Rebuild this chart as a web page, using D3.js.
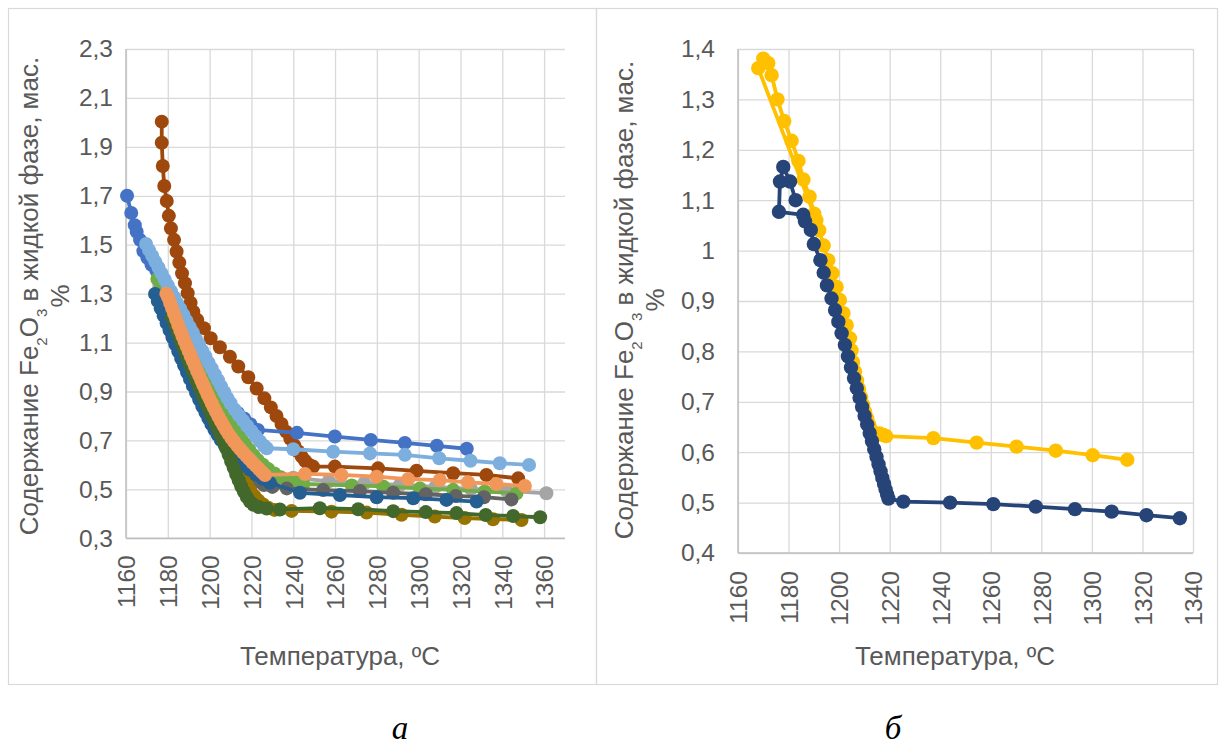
<!DOCTYPE html>
<html>
<head>
<meta charset="utf-8">
<script src="https://cdn.jsdelivr.net/npm/d3@7"></script>
<style>
  body { margin: 0; background: #fff; }
  svg { display: block; }
</style>
</head>
<body>
<svg id="fig" width="1221" height="749"></svg>
<script>
// ---- axis ticks ----
const xTicksA = [1160, 1180, 1200, 1220, 1240, 1260, 1280, 1300, 1320, 1340, 1360];
const yTicksA = [0.3, 0.5, 0.7, 0.9, 1.1, 1.3, 1.5, 1.7, 1.9, 2.1, 2.3];
const xTicksB = [1160, 1180, 1200, 1220, 1240, 1260, 1280, 1300, 1320, 1340];
const yTicksB = [0.4, 0.5, 0.6, 0.7, 0.8, 0.9, 1.0, 1.1, 1.2, 1.3, 1.4];

// ---- panel a: [temperature, Fe2O3 in liquid] ----
const aBrown = [[1177.1,2.003],[1177.1,1.917],[1177.6,1.822],[1178.3,1.740],[1179.5,1.679],[1180.5,1.618],[1181.5,1.567],[1183.0,1.520],[1184.2,1.472],[1185.5,1.427],[1186.8,1.383],[1188.2,1.343],[1189.5,1.302],[1190.9,1.263],[1192.2,1.226],[1194.1,1.193],[1197.3,1.159],[1200.5,1.118],[1204.9,1.081],[1209.7,1.042],[1213.7,1.002],[1218.5,0.958],[1222.5,0.912],[1226.2,0.872],[1229.3,0.835],[1232.0,0.800],[1234.4,0.767],[1236.6,0.736],[1238.6,0.707],[1240.5,0.680],[1242.3,0.656],[1244.0,0.635],[1245.6,0.617],[1247.2,0.603],[1249.5,0.593],[1259.9,0.593],[1280.6,0.586],[1299.0,0.576],[1316.5,0.566],[1332.4,0.559],[1347.6,0.545]];
const aBlue = [[1160.5,1.700],[1162.5,1.630],[1164.2,1.580],[1165.1,1.553],[1166.7,1.520],[1168.3,1.474],[1170.2,1.447],[1172.2,1.418],[1174.5,1.394],[1177.5,1.345],[1180.5,1.296],[1183.5,1.248],[1186.5,1.199],[1189.5,1.151],[1192.5,1.102],[1195.5,1.053],[1198.5,1.005],[1201.5,0.956],[1204.5,0.908],[1207.5,0.862],[1210.5,0.834],[1213.5,0.812],[1216.5,0.790],[1219.5,0.766],[1223.1,0.743],[1241.8,0.731],[1259.9,0.716],[1277.1,0.702],[1293.4,0.690],[1308.7,0.678],[1323.0,0.666]];
const aGray = [[1176,1.330],[1178,1.295],[1180,1.260],[1182,1.225],[1184,1.190],[1186,1.156],[1188,1.122],[1190,1.088],[1192,1.055],[1194,1.022],[1196,0.989],[1198,0.957],[1200,0.925],[1202,0.893],[1204,0.861],[1206,0.828],[1208,0.795],[1210,0.762],[1212,0.730],[1214,0.699],[1216,0.669],[1218,0.641],[1220,0.615],[1222,0.592],[1224.5,0.572],[1227,0.558],[1232,0.550],[1240,0.548],[1257,0.533],[1274,0.525],[1291,0.518],[1308,0.510],[1325,0.502],[1342,0.494],[1361.1,0.484]];
const aGreen = [[1175.0,1.360],[1177.0,1.326],[1179.0,1.292],[1181.0,1.258],[1183.0,1.224],[1185.0,1.190],[1187.0,1.156],[1189.0,1.122],[1191.0,1.088],[1193.0,1.054],[1195.0,1.020],[1197.0,0.987],[1199.0,0.954],[1201.0,0.921],[1203.0,0.889],[1205.0,0.857],[1207.0,0.826],[1209.0,0.796],[1211.0,0.767],[1213.0,0.739],[1215.0,0.712],[1217.0,0.686],[1219.0,0.662],[1221.0,0.640],[1223.0,0.620],[1225.5,0.601],[1228.0,0.583],[1231.0,0.565],[1234.0,0.550],[1237.5,0.538],[1241.0,0.529],[1244.8,0.522],[1268.0,0.516],[1283.0,0.512],[1300.6,0.504],[1316.5,0.498],[1331.6,0.491],[1346.8,0.484]];
const aDarkGray = [[1178,1.280],[1180,1.235],[1182,1.190],[1184,1.147],[1186,1.105],[1188,1.064],[1190,1.024],[1192,0.985],[1194,0.947],[1196,0.910],[1198,0.874],[1200,0.839],[1202,0.805],[1204,0.772],[1206,0.740],[1208,0.709],[1210,0.679],[1212,0.650],[1214,0.622],[1216,0.596],[1218,0.572],[1220,0.551],[1222.5,0.532],[1226,0.518],[1230,0.510],[1236.9,0.504],[1254.3,0.497],[1271.9,0.493],[1287.8,0.486],[1303.4,0.480],[1317.8,0.473],[1331.2,0.468],[1344.4,0.459]];
const aDarkGold = [[1185.0,1.150],[1186.6,1.115],[1188.2,1.080],[1189.8,1.046],[1191.4,1.012],[1193.0,0.979],[1194.6,0.946],[1196.2,0.914],[1197.8,0.882],[1199.4,0.851],[1201.0,0.820],[1202.6,0.790],[1204.2,0.760],[1205.8,0.731],[1207.3,0.702],[1208.8,0.674],[1210.3,0.646],[1211.8,0.619],[1213.3,0.592],[1214.8,0.566],[1216.3,0.541],[1217.9,0.517],[1219.6,0.494],[1221.4,0.473],[1223.4,0.454],[1225.6,0.438],[1228.0,0.425],[1231.0,0.416],[1239.2,0.412],[1258.3,0.409],[1275.1,0.405],[1291.8,0.396],[1307.7,0.389],[1322.0,0.383],[1335.6,0.378],[1349.2,0.375]];
const aDarkBlue = [[1173.9,1.299],[1175.2,1.270],[1176.6,1.240],[1178.0,1.210],[1179.4,1.180],[1180.8,1.151],[1182.2,1.122],[1183.6,1.093],[1185.0,1.064],[1186.4,1.035],[1187.8,1.007],[1189.2,0.979],[1190.6,0.951],[1192.0,0.923],[1193.5,0.895],[1195.0,0.867],[1196.5,0.840],[1198.0,0.814],[1199.4,0.790],[1200.8,0.767],[1202.3,0.745],[1203.8,0.723],[1205.4,0.702],[1207.2,0.681],[1209.2,0.661],[1211.4,0.641],[1213.8,0.621],[1216.4,0.601],[1219.2,0.581],[1222.2,0.561],[1225.4,0.543],[1228.8,0.527],[1243.2,0.486],[1262.3,0.477],[1279.9,0.468],[1297.4,0.464],[1313.3,0.457],[1327.7,0.450]];
const aDarkGreen = [[1182.0,1.205],[1183.4,1.172],[1184.8,1.139],[1186.2,1.107],[1187.6,1.075],[1189.0,1.043],[1190.4,1.012],[1191.9,0.981],[1193.4,0.950],[1194.9,0.920],[1196.4,0.890],[1197.9,0.861],[1199.4,0.832],[1200.9,0.804],[1202.4,0.776],[1203.9,0.749],[1205.3,0.722],[1206.6,0.695],[1207.9,0.668],[1209.1,0.641],[1210.3,0.614],[1211.5,0.588],[1212.7,0.562],[1213.9,0.537],[1215.1,0.513],[1216.4,0.490],[1217.8,0.469],[1219.3,0.450],[1221.0,0.437],[1223.5,0.428],[1227.3,0.422],[1233.6,0.418],[1252.7,0.423],[1271.1,0.419],[1287.8,0.411],[1303.4,0.407],[1318.1,0.403],[1332.1,0.395],[1345.2,0.391],[1358.1,0.386]];
const aLightBlue = [[1169.6,1.503],[1171.0,1.478],[1172.5,1.455],[1174.0,1.431],[1175.5,1.407],[1177.0,1.383],[1178.5,1.358],[1180.0,1.334],[1181.5,1.310],[1183.0,1.286],[1184.5,1.261],[1186.0,1.237],[1187.5,1.213],[1189.0,1.188],[1190.5,1.164],[1192.0,1.140],[1193.5,1.115],[1195.0,1.091],[1196.5,1.067],[1198.0,1.043],[1199.5,1.018],[1201.0,0.994],[1202.5,0.970],[1204.0,0.946],[1205.5,0.921],[1207.0,0.897],[1208.5,0.873],[1210.0,0.852],[1212.0,0.826],[1214.0,0.803],[1216.0,0.781],[1218.0,0.759],[1220.0,0.738],[1222.0,0.717],[1224.0,0.697],[1226.0,0.678],[1227.3,0.668],[1240.0,0.664],[1259.1,0.654],[1276.7,0.647],[1293.4,0.641],[1309.8,0.627],[1324.8,0.617],[1338.8,0.607],[1352.8,0.600]];
const aOrange = [[1179.3,1.300],[1180.2,1.283],[1181.1,1.262],[1182.0,1.241],[1183.0,1.218],[1184.0,1.195],[1185.0,1.172],[1186.0,1.148],[1187.0,1.127],[1188.0,1.106],[1189.0,1.086],[1190.0,1.065],[1191.0,1.044],[1192.0,1.024],[1193.0,1.004],[1194.0,0.984],[1195.0,0.965],[1196.0,0.945],[1197.0,0.926],[1198.0,0.907],[1199.0,0.888],[1200.0,0.870],[1201.0,0.852],[1202.0,0.834],[1203.0,0.817],[1204.2,0.798],[1205.4,0.779],[1206.6,0.761],[1207.8,0.744],[1209.0,0.727],[1210.4,0.710],[1211.8,0.694],[1213.2,0.679],[1214.6,0.665],[1216.0,0.651],[1217.5,0.637],[1219.0,0.624],[1220.5,0.610],[1222.0,0.597],[1223.5,0.584],[1225.0,0.571],[1226.5,0.559],[1245.6,0.563],[1263.1,0.559],[1279.9,0.552],[1295.0,0.542],[1310.1,0.538],[1323.6,0.529],[1337.2,0.522],[1350.8,0.514]];

// ---- panel б ----
const bGold = [[1314.0,0.585],[1300.3,0.594],[1285.7,0.603],[1270.2,0.611],[1254.4,0.619],[1237.3,0.628],[1218.6,0.632],[1217.5,0.634],[1216.0,0.637],[1212.6,0.645],[1211.9,0.655],[1211.1,0.667],[1210.3,0.680],[1209.5,0.694],[1208.7,0.709],[1207.9,0.725],[1207.1,0.742],[1206.3,0.760],[1205.5,0.779],[1204.9,0.802],[1204.3,0.826],[1203.0,0.852],[1201.7,0.876],[1200.3,0.902],[1199.0,0.928],[1197.4,0.955],[1195.7,0.981],[1193.9,1.010],[1192.1,1.040],[1190.2,1.073],[1188.3,1.107],[1185.9,1.141],[1183.9,1.178],[1181.2,1.218],[1178.3,1.257],[1175.6,1.300],[1173.3,1.348],[1172.0,1.372],[1170.0,1.381],[1168.0,1.362],[1191.0,1.060]];
const bNavy = [[1334.8,0.469],[1321.6,0.475],[1307.8,0.482],[1293.3,0.487],[1277.8,0.492],[1261.0,0.497],[1243.9,0.500],[1225.4,0.502],[1219.5,0.508],[1219.0,0.516],[1218.4,0.526],[1217.8,0.537],[1217.1,0.549],[1216.4,0.562],[1215.6,0.576],[1214.8,0.591],[1213.9,0.606],[1213.0,0.622],[1212.1,0.638],[1211.1,0.655],[1210.1,0.672],[1209.1,0.690],[1208.1,0.708],[1207.0,0.727],[1205.9,0.747],[1204.7,0.768],[1203.5,0.790],[1202.3,0.813],[1201.0,0.836],[1199.7,0.859],[1198.4,0.882],[1197.0,0.905],[1195.2,0.931],[1193.9,0.956],[1192.6,0.981],[1190.0,1.013],[1188.8,1.041],[1186.5,1.058],[1185.8,1.071],[1176.2,1.077],[1176.6,1.137],[1177.9,1.166],[1180.6,1.137],[1182.8,1.100]];

// drawing order and colours (bottom to top)
const seriesA = [
  { data: aBrown, color: "#9E480E" },
  { data: aBlue, color: "#4472C4" },
  { data: aGray, color: "#A5A5A5" },
  { data: aGreen, color: "#70AD47" },
  { data: aDarkGray, color: "#636363" },
  { data: aDarkGold, color: "#997300" },
  { data: aDarkBlue, color: "#255E91" },
  { data: aDarkGreen, color: "#43682B" },
  { data: aLightBlue, color: "#7CAFDD" },
  { data: aOrange, color: "#F1975A" }
];
const seriesB = [
  { data: bGold, color: "#FFC000" },
  { data: bNavy, color: "#264478" }
];

const svg = d3.select("#fig");
const FONT = "'Liberation Sans', Arial, Helvetica, sans-serif";
const TXT = "#595959";
const fmtDec = d3.formatLocale({ decimal: ",", thousands: "\u00a0", grouping: [3], currency: ["", ""] }).format(".1~f");

// chart frames
svg.append("rect").attr("x", 8.5).attr("y", 8.5).attr("width", 588).attr("height", 676)
  .attr("fill", "none").attr("stroke", "#d9d9d9").attr("stroke-width", 1.2);
svg.append("rect").attr("x", 596.5).attr("y", 8.5).attr("width", 621).attr("height", 676)
  .attr("fill", "none").attr("stroke", "#d9d9d9").attr("stroke-width", 1.2);

function panel(cfg) {
  const g = svg.append("g");
  const x = d3.scaleLinear().domain(cfg.xDomain).range([cfg.left, cfg.right]);
  const y = d3.scaleLinear().domain(cfg.yDomain).range([cfg.bottom, cfg.top]);

  const ya = g.append("g")
    .attr("transform", `translate(${cfg.left},0)`)
    .call(d3.axisLeft(y).tickValues(cfg.yTicks).tickFormat(fmtDec)
      .tickSize(-(cfg.right - cfg.left)).tickPadding(cfg.yPad));
  ya.select(".domain").remove();
  ya.attr("font-family", null).attr("font-size", null);
  ya.selectAll(".tick line").attr("stroke", "#d9d9d9").attr("stroke-width", 1.3);
  ya.selectAll(".tick text").attr("fill", TXT).style("font-family", FONT).style("font-size", "24.5px");

  const xa = g.append("g")
    .attr("transform", `translate(0,${cfg.bottom})`)
    .call(d3.axisBottom(x).tickValues(cfg.xTicks).tickFormat(d3.format("d"))
      .tickSize(-(cfg.bottom - cfg.top)));
  xa.select(".domain").remove();
  xa.attr("font-family", null).attr("font-size", null);
  xa.selectAll(".tick line").attr("stroke", "#d9d9d9").attr("stroke-width", 1.3);
  xa.selectAll(".tick text")
    .attr("transform", "rotate(-90)")
    .attr("x", -cfg.xPad).attr("y", 0).attr("dy", "0.36em")
    .attr("text-anchor", "end")
    .attr("fill", TXT).style("font-family", FONT).style("font-size", "24.5px");

  // axis lines
  g.append("line").attr("x1", cfg.left).attr("x2", cfg.right).attr("y1", cfg.bottom).attr("y2", cfg.bottom)
    .attr("stroke", "#bfbfbf").attr("stroke-width", 1.5);
  g.append("line").attr("x1", cfg.left).attr("x2", cfg.left).attr("y1", cfg.top).attr("y2", cfg.bottom)
    .attr("stroke", "#bfbfbf").attr("stroke-width", 1.5);

  // series: line then markers, one after another
  const line = d3.line().x(d => x(d[0])).y(d => y(d[1]));
  cfg.series.forEach(s => {
    const sg = g.append("g");
    sg.append("path").attr("d", line(s.data)).attr("fill", "none")
      .attr("stroke", s.color).attr("stroke-width", cfg.lw)
      .attr("stroke-linejoin", "round").attr("stroke-linecap", "round");
    sg.selectAll("circle").data(s.data).join("circle")
      .attr("cx", d => x(d[0])).attr("cy", d => y(d[1])).attr("r", cfg.r)
      .attr("fill", s.color);
  });

  // axis titles
  g.append("text").attr("x", cfg.xTitleX).attr("y", cfg.xTitleY).attr("text-anchor", "middle")
    .attr("fill", TXT).style("font-family", FONT).style("font-size", "26px")
    .text("Температура, ºC");

  const yc = cfg.yTitleY;
  const t1 = g.append("text")
    .attr("transform", `translate(${cfg.yTitleX},${yc}) rotate(-90)`)
    .attr("text-anchor", "middle").attr("fill", TXT)
    .style("font-family", FONT).style("font-size", "26px");
  t1.append("tspan").text("Содержание Fe");
  t1.append("tspan").attr("baseline-shift", "sub").style("font-size", "15px").text("2");
  t1.append("tspan").text("O");
  t1.append("tspan").attr("baseline-shift", "sub").style("font-size", "15px").text("3");
  t1.append("tspan").text(" в жидкой фазе, мас.");
  g.append("text")
    .attr("transform", `translate(${cfg.yTitleX + 31},${yc}) rotate(-90)`)
    .attr("text-anchor", "middle").attr("fill", TXT)
    .style("font-family", FONT).style("font-size", "26px").text("%");

  g.append("text").attr("x", cfg.capX).attr("y", 739).attr("text-anchor", "middle")
    .attr("fill", "#000").style("font-family", "'Liberation Serif', 'Times New Roman', serif")
    .style("font-style", "italic").style("font-size", "33px").text(cfg.caption);
}

panel({
  left: 126, right: 565, top: 49, bottom: 538.3,
  xDomain: [1160, 1370], yDomain: [0.3, 2.3],
  xTicks: xTicksA, yTicks: yTicksA, yPad: 13, xPad: 17,
  series: seriesA, r: 7, lw: 3.8,
  xTitleX: 340, xTitleY: 665, yTitleX: 38, yTitleY: 296,
  capX: 400, caption: "а"
});
panel({
  left: 738, right: 1193, top: 49, bottom: 553,
  xDomain: [1160, 1340], yDomain: [0.4, 1.4],
  xTicks: xTicksB, yTicks: yTicksB, yPad: 23, xPad: 18,
  series: seriesB, r: 7.2, lw: 3.8,
  xTitleX: 955, xTitleY: 665, yTitleX: 633, yTitleY: 300,
  capX: 893, caption: "б"
});
</script>
</body>
</html>
